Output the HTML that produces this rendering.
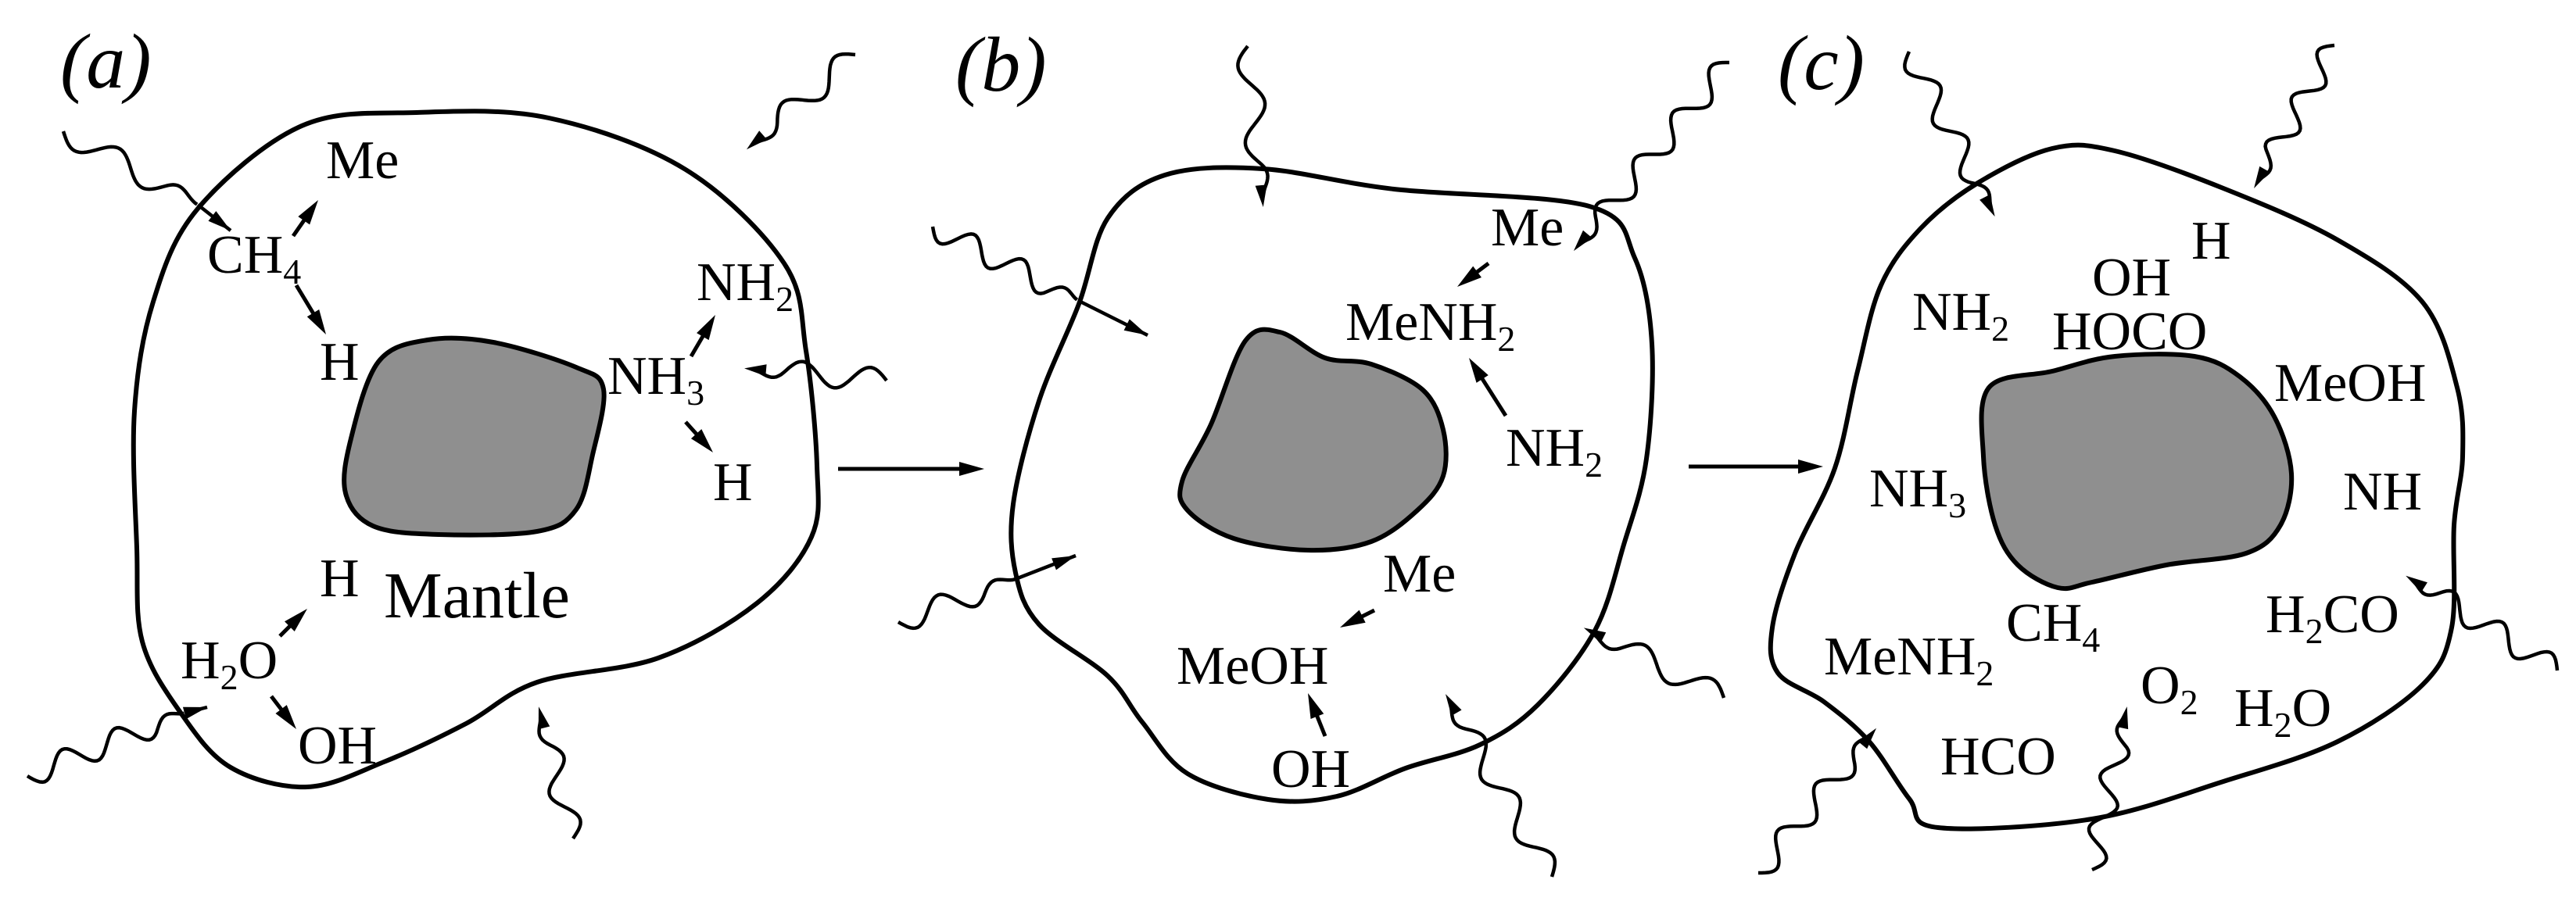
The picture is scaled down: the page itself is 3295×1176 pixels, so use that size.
<!DOCTYPE html>
<html><head><meta charset="utf-8"><style>
html,body{margin:0;padding:0;background:#fff;}
svg{display:block;}
text{font-family:"Liberation Serif",serif;font-size:70px;fill:#000;}
tspan.s{font-size:46px;}
</style></head><body>
<svg id="s" width="3295" height="1176" viewBox="0 0 3295 1176" xmlns="http://www.w3.org/2000/svg">
<g id="g"></g>
<text x="77" y="112" style="font-size:100px;font-style:italic">(a)</text>
<text x="1222" y="116" style="font-size:100px;font-style:italic">(b)</text>
<text x="2274" y="114" style="font-size:100px;font-style:italic">(c)</text>

<text x="417" y="228">Me</text>
<text x="265" y="349">CH<tspan class="s" dy="14">4</tspan></text>
<text x="409" y="486">H</text>
<text x="891" y="384">NH<tspan class="s" dy="14">2</tspan></text>
<text x="777" y="504">NH<tspan class="s" dy="14">3</tspan></text>
<text x="912" y="640">H</text>
<text x="409" y="763">H</text>
<text x="491" y="790" style="font-size:84px">Mantle</text>
<text x="231" y="868">H<tspan class="s" dy="14">2</tspan><tspan dy="-14">O</tspan></text>
<text x="381" y="977">OH</text>

<text x="1907" y="314">Me</text>
<text x="1721" y="435">MeNH<tspan class="s" dy="14">2</tspan></text>
<text x="1926" y="596">NH<tspan class="s" dy="14">2</tspan></text>
<text x="1769" y="757">Me</text>
<text x="1505" y="875">MeOH</text>
<text x="1626" y="1007">OH</text>

<text x="2803" y="331">H</text>
<text x="2676" y="378">OH</text>
<text x="2446" y="422">NH<tspan class="s" dy="14">2</tspan></text>
<text x="2625" y="447">HOCO</text>
<text x="2909" y="513">MeOH</text>
<text x="2391" y="648">NH<tspan class="s" dy="14">3</tspan></text>
<text x="2997" y="652">NH</text>
<text x="2898" y="809">H<tspan class="s" dy="14">2</tspan><tspan dy="-14">CO</tspan></text>
<text x="2566" y="820">CH<tspan class="s" dy="14">4</tspan></text>
<text x="2333" y="863">MeNH<tspan class="s" dy="14">2</tspan></text>
<text x="2738" y="900">O<tspan class="s" dy="14">2</tspan></text>
<text x="2858" y="929">H<tspan class="s" dy="14">2</tspan><tspan dy="-14">O</tspan></text>
<text x="2482" y="991">HCO</text>
</svg>
<script>
var g=document.getElementById('g');var NS='http://www.w3.org/2000/svg';
function add(tag,attrs){var e=document.createElementNS(NS,tag);for(var k in attrs)e.setAttribute(k,attrs[k]);g.appendChild(e);return e;}
function blob(pts,fill){var n=pts.length-1;var d='M'+pts[0][0]+','+pts[0][1];
for(var i=0;i<n;i++){var p0=pts[(i-1+n)%n],p1=pts[i],p2=pts[i+1],p3=pts[(i+2)%n];
var c1=[p1[0]+(p2[0]-p0[0])/6,p1[1]+(p2[1]-p0[1])/6],c2=[p2[0]-(p3[0]-p1[0])/6,p2[1]-(p3[1]-p1[1])/6];
d+=' C'+c1[0]+','+c1[1]+' '+c2[0]+','+c2[1]+' '+p2[0]+','+p2[1];}
add('path',{d:d+'Z',fill:fill,stroke:'#000','stroke-width':6});}
function head(x,y,ang,L,W){var c=Math.cos(ang),s=Math.sin(ang);
var bx=x-c*L,by=y-s*L;add('polygon',{points:x+','+y+' '+(bx-s*W/2)+','+(by+c*W/2)+' '+(bx+s*W/2)+','+(by-c*W/2),fill:'#000'});}
function arrow(x1,y1,x2,y2){var a=Math.atan2(y2-y1,x2-x1);add('line',{x1:x1,y1:y1,x2:x2-Math.cos(a)*10,y2:y2-Math.sin(a)*10,stroke:'#000','stroke-width':5});head(x2,y2,a,32,18);}
function wave(pts,hx,hy){var d='';var first=true;
var a=pts[0],b=pts[1];var dx=b[0]-a[0],dy=b[1]-a[1];var L=Math.hypot(dx,dy);var ux=dx/L,uy=dy/L;
var nw=Math.max(1,Math.round(L/80));
for(var t=0;t<=L;t+=3){var env=Math.min(1,(L-t)/45);var o=15*env*Math.sin(t/L*Math.PI*2*nw);var x=a[0]+ux*t-uy*o,y=a[1]+uy*t+ux*o;d+=(first?'M':'L')+x.toFixed(1)+','+y.toFixed(1);first=false;}
add('path',{d:d,fill:'none',stroke:'#000','stroke-width':4.5});
if(hx!==undefined){add('line',{x1:b[0],y1:b[1],x2:hx,y2:hy,stroke:'#000','stroke-width':4.5});head(hx,hy,Math.atan2(hy-b[1],hx-b[0]),30,16);}
else{head(b[0]+ux*8,b[1]+uy*8,Math.atan2(dy,dx),28,15);}}
// panel a
blob([[253,267],[386,161],[533,144],[702,151],[877,217],[1003,337],[1031,449],[1045,596],[1038,687],[968,772],[842,842],[687,873],[596,926],[491,975],[393,1007],[295,982],[231,912],[182,821],[175,701],[172,526],[196,386],[253,267]],'none');
blob([[484,463],[547,435],[631,438],[737,470],[772,498],[758,582],[737,652],[687,680],[561,684],[477,673],[442,631],[449,561],[484,463]],'#8f8f8f');
arrow(375,302,407,256);arrow(379,365,417,428);arrow(884,456,915,403);arrow(877,540,912,579);arrow(358,814,393,779);arrow(347,891,379,933);
wave([[81,168],[253,262]],295,295);
wave([[1094,70],[961,186]]);
wave([[1134,487],[960,472]]);
wave([[35,993],[238,912]],265,905);
wave([[733,1073],[691,912]]);
// panel b
blob([[1417,279],[1490,224],[1615,216],[1783,242],[2033,264],[2091,330],[2113,440],[2106,587],[2077,697],[2040,807],[1967,902],[1893,953],[1798,983],[1710,1019],[1622,1023],[1519,990],[1461,924],[1417,865],[1329,799],[1299,733],[1296,645],[1329,513],[1380,389],[1417,279]],'none');
blob([[1593,436],[1637,425],[1695,458],[1754,466],[1820,499],[1846,550],[1846,609],[1813,653],[1754,693],[1673,704],[1578,689],[1519,653],[1512,616],[1549,543],[1593,436]],'#8f8f8f');
arrow(1904,337,1864,367);arrow(1926,532,1879,458);arrow(1758,781,1714,803);arrow(1695,942,1673,887);
wave([[1596,59],[1615,257]]);
wave([[2212,80],[2018,315]]);
wave([[1193,290],[1380,385]],1468,429);
wave([[1149,796],[1299,741]],1376,711);
wave([[2205,893],[2033,807]]);
wave([[1985,1122],[1853,895]]);
// panel c
blob([[2530,234],[2625,190],[2705,193],[2844,241],[2990,307],[3099,387],[3143,496],[3150,584],[3139,672],[3136,803],[3099,876],[2990,949],[2844,1000],[2676,1048],[2479,1059],[2442,1022],[2391,949],[2333,898],[2274,861],[2267,803],[2296,708],[2347,599],[2376,475],[2406,365],[2457,292],[2530,234]],'none');
blob([[2544,496],[2625,475],[2705,456],[2807,456],[2865,482],[2909,533],[2931,606],[2917,672],[2873,708],[2771,723],[2676,745],[2632,752],[2581,723],[2552,672],[2537,584],[2544,496]],'#8f8f8f');
wave([[2442,66],[2548,270]]);
wave([[2986,58],[2887,234]]);
wave([[3271,858],[3084,741]]);
wave([[2249,1117],[2395,938]]);
wave([[2676,1113],[2719,912]]);
// big arrows
arrow(1072,600,1259,600);arrow(2160,597,2332,597);
</script>
</body></html>
